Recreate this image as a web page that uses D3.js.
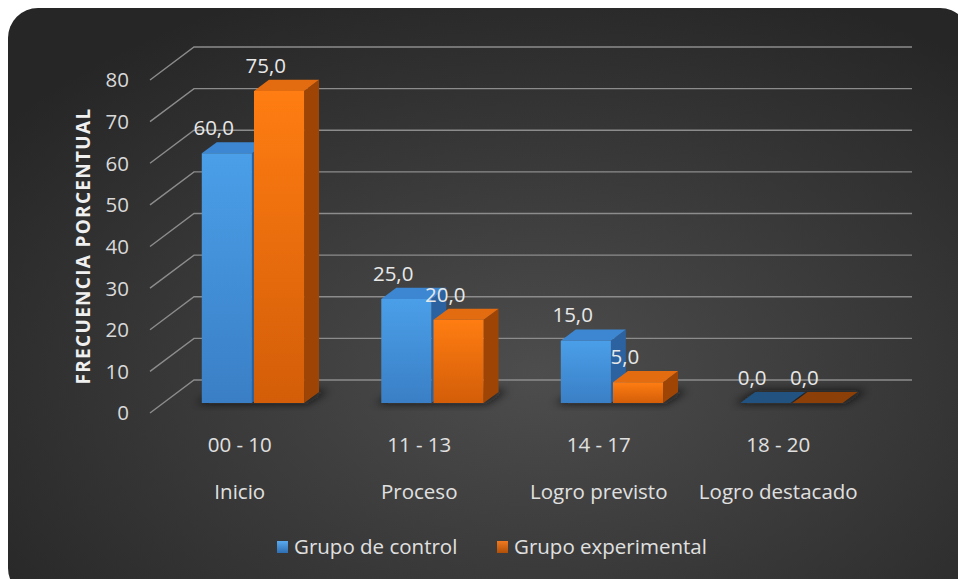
<!DOCTYPE html>
<html>
<head>
<meta charset="utf-8">
<script src="https://cdn.jsdelivr.net/npm/d3@7"></script>
<style>
  html, body { margin: 0; padding: 0; background: #ffffff; }
  svg { display: block; }
  text { font-family: "Open Sans", "Noto Sans", sans-serif; }
</style>
</head>
<body>
<svg id="chart" width="958" height="579"></svg>
<script>
// Score ranges and their level names
const ranges = ["00 - 10", "11 - 13", "14 - 17", "18 - 20"];
const levels = ["Inicio", "Proceso", "Logro previsto", "Logro destacado"];
const seriesNames = ["Grupo de control", "Grupo experimental"];
const controlValues = [60.0, 25.0, 15.0, 0.0];
const experimentalValues = [75.0, 20.0, 5.0, 0.0];
const yTicks = [0, 10, 20, 30, 40, 50, 60, 70, 80];
const axisTitle = "FRECUENCIA PORCENTUAL";

const FS = 20.5;
const svg = d3.select("#chart");
const defs = svg.append("defs");

// Panel background
const bg = defs.append("radialGradient").attr("id", "bgGrad")
  .attr("cx", "55%").attr("cy", "62%").attr("r", "70%");
bg.append("stop").attr("offset", "0%").attr("stop-color", "#4d4d4d");
bg.append("stop").attr("offset", "100%").attr("stop-color", "#262626");
svg.append("rect").attr("x", 8).attr("y", 8).attr("width", 962).attr("height", 590)
  .attr("rx", 30).attr("ry", 30).attr("fill", "url(#bgGrad)");

// 3D projection: front plane plus depth offset
const depthDX = 44, depthDY = -33;
const y = d3.scaleLinear().domain([0, 80]).range([413, 80]);
const x = d3.scaleBand().domain(ranges).range([150, 868]).paddingInner(0.43).paddingOuter(0.215);
const xs = d3.scaleBand().domain(seriesNames).range([0, x.bandwidth()]).paddingInner(0.04);
const proj = (px, v, z) => [px + z * depthDX, y(v) + z * depthDY];

// Gridlines: side wall diagonal + back wall horizontal
const grid = svg.append("g").attr("stroke", "#8c8c8c").attr("stroke-width", 1.4).attr("fill", "none");
yTicks.forEach(t => {
  const a = proj(150, t, 0), b = proj(150, t, 1), c = proj(868, t, 1);
  grid.append("polyline").attr("points", [a, b, c].map(p => p.join(",")).join(" "));
});

// Y tick labels
svg.append("g").selectAll("text").data(yTicks).join("text")
  .attr("x", 129).attr("y", d => y(d)).attr("dy", "0.36em")
  .attr("text-anchor", "end").attr("fill", "#d9d9d9").attr("font-size", FS)
  .text(d => d);

// Axis title
svg.append("text").attr("transform", "translate(90,246) rotate(-90)")
  .attr("text-anchor", "middle").attr("fill", "#f0f0f0")
  .attr("font-size", 19).attr("font-weight", "bold").attr("letter-spacing", 1.3).text(axisTitle);

// Bar colours per series
const palette = [
  { front: ["#4a9fe8", "#3a7fc6"], side: "#2c62a0", top: "#3d87d2", flat: "#22527f", legend: ["#5aaaf0", "#2f6eb2"] },
  { front: ["#ff7d12", "#d35d08"], side: "#9e4506", top: "#e46c10", flat: "#8c3f06", legend: ["#f07a20", "#b04f08"] }
];
palette.forEach((p, i) => {
  const g = defs.append("linearGradient").attr("id", "front" + i).attr("x1", 0).attr("y1", 0).attr("x2", 0).attr("y2", 1);
  g.append("stop").attr("offset", "0%").attr("stop-color", p.front[0]);
  g.append("stop").attr("offset", "100%").attr("stop-color", p.front[1]);
  const l = defs.append("linearGradient").attr("id", "leg" + i).attr("x1", 0).attr("y1", 0).attr("x2", 0).attr("y2", 1);
  l.append("stop").attr("offset", "0%").attr("stop-color", p.legend[0]);
  l.append("stop").attr("offset", "100%").attr("stop-color", p.legend[1]);
});

// Soft floor shadow
const blur = defs.append("filter").attr("id", "shadowBlur").attr("x", "-20%").attr("y", "-50%").attr("width", "140%").attr("height", "200%");
blur.append("feGaussianBlur").attr("stdDeviation", 4);

const z0 = 0.30, z1 = 0.64;
const bars = [];
ranges.forEach((r, i) => {
  bars.push({ cat: r, s: 0, v: controlValues[i] });
  bars.push({ cat: r, s: 1, v: experimentalValues[i] });
});

const shadowG = svg.append("g").attr("filter", "url(#shadowBlur)");
ranges.forEach(r => {
  const left = x(r), right = x(r) + x.bandwidth();
  const pts = [proj(left - 6, 0, z0 - 0.02), proj(right + 4, 0, z0 - 0.02), proj(right + 8, 0, z1 + 0.04), proj(left + 2, 0, z1 + 0.04)];
  shadowG.append("polygon").attr("points", pts.map(p => p.join(",")).join(" "))
    .attr("fill", "#151515").attr("opacity", 0.75);
});

const barG = svg.append("g");
bars.forEach(d => {
  const p = palette[d.s];
  const xl = x(d.cat) + xs(seriesNames[d.s]);
  const xr = xl + xs.bandwidth();
  const g = barG.append("g");
  const poly = (pts, fill) => g.append("polygon").attr("points", pts.map(q => q.join(",")).join(" ")).attr("fill", fill);
  if (d.v > 0) {
    poly([proj(xr, 0, z0), proj(xr, 0, z1), proj(xr, d.v, z1), proj(xr, d.v, z0)], p.side);
    poly([proj(xl, d.v, z0), proj(xr, d.v, z0), proj(xr, d.v, z1), proj(xl, d.v, z1)], p.top);
    poly([proj(xl, 0, z0), proj(xr, 0, z0), proj(xr, d.v, z0), proj(xl, d.v, z0)], `url(#front${d.s})`);
  } else {
    poly([proj(xl, 0, z0), proj(xr, 0, z0), proj(xr, 0, z1), proj(xl, 0, z1)], p.flat);
  }
});

// Value labels
svg.append("g").selectAll("text").data(bars).join("text")
  .attr("x", d => x(d.cat) + xs(seriesNames[d.s]) + xs.bandwidth() / 2)
  .attr("y", d => proj(0, d.v, z1)[1] - 7)
  .attr("text-anchor", "middle").attr("fill", "#e8e8e8").attr("font-size", FS)
  .text(d => d.v.toFixed(1).replace(".", ","));

// Category labels (two rows)
const catG = svg.append("g").attr("fill", "#e0e0e0").attr("font-size", FS).attr("text-anchor", "middle");
ranges.forEach((r, i) => {
  const cx = x(r) + x.bandwidth() / 2;
  catG.append("text").attr("x", cx).attr("y", 452).text(r);
  catG.append("text").attr("x", cx).attr("y", 499).text(levels[i]);
});

// Legend
const legendItems = [{ x: 277, name: seriesNames[0], s: 0 }, { x: 497, name: seriesNames[1], s: 1 }];
const legG = svg.append("g");
legendItems.forEach(it => {
  legG.append("rect").attr("x", it.x).attr("y", 541).attr("width", 11).attr("height", 12)
    .attr("fill", `url(#leg${it.s})`);
  legG.append("text").attr("x", it.x + 17).attr("y", 554).attr("fill", "#e0e0e0")
    .attr("font-size", FS).text(it.name);
});
</script>
</body>
</html>
